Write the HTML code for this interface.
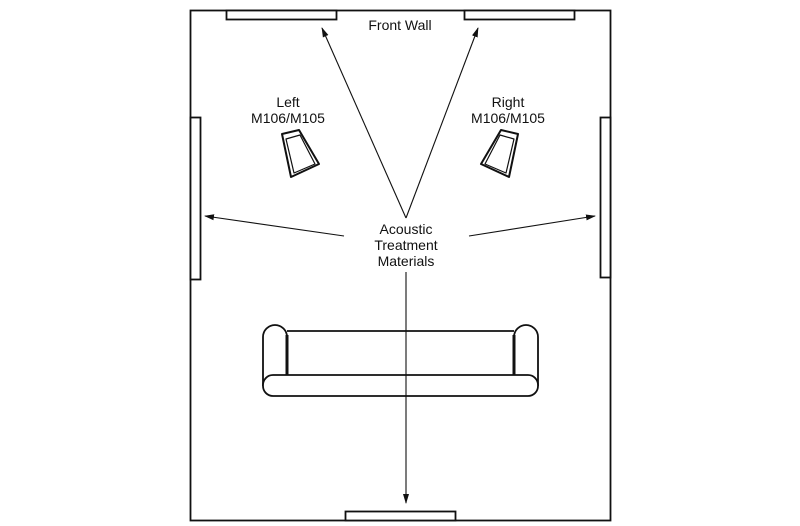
<!DOCTYPE html>
<html><head><style>body{margin:0;background:#fff}svg{display:block}text{font-family:"Liberation Sans Narrow","Liberation Sans",sans-serif;font-size:14px;fill:#111;text-anchor:middle}</style></head>
<body>
<svg width="800" height="526" viewBox="0 0 800 526" xmlns="http://www.w3.org/2000/svg">
<defs><marker id="a" markerWidth="10" markerHeight="8" refX="9" refY="4" orient="auto" markerUnits="userSpaceOnUse"><path d="M0,1 L10,4 L0,7z" fill="#111"/></marker></defs>
<g fill="none" stroke="#111" stroke-width="1.8">
<rect x="190.5" y="10.5" width="420" height="510"/>
<rect x="226.5" y="10.5" width="110" height="9" fill="#fff"/>
<rect x="464.5" y="10.5" width="110" height="9" fill="#fff"/>
<rect x="190.5" y="117.5" width="10" height="162" fill="#fff"/>
<rect x="600.5" y="117.5" width="10" height="160" fill="#fff"/>
<rect x="345.5" y="511.5" width="110" height="9" fill="#fff"/>
</g>
<g fill="none" stroke="#111" stroke-width="1.8" stroke-linejoin="round">
<path d="M263,386 V337 a12,12 0 0 1 24,0 V386"/>
<path d="M514,386 V337 a12,12 0 0 1 24,0 V386"/>
<line x1="287" y1="331" x2="514" y2="331"/>
<line x1="287" y1="335" x2="287" y2="376" stroke-width="3"/>
<line x1="514" y1="335" x2="514" y2="376" stroke-width="3"/>
<rect x="263" y="375" width="275" height="21" rx="10" fill="#fff"/>
<path d="M282,134 L299,130 L319,164 L291,177 Z" stroke-width="2"/>
<path d="M286,139 L300,135 L315,164 L294,173 Z" stroke-width="1.2"/>
<path d="M518,134 L501,130 L481,164 L509,177 Z" stroke-width="2"/>
<path d="M514,139 L500,135 L485,164 L506,173 Z" stroke-width="1.2"/>
</g>
<g stroke="#111" stroke-width="1.1" fill="none">
<line x1="406" y1="218" x2="322" y2="28" marker-end="url(#a)"/>
<line x1="406" y1="218" x2="478" y2="28" marker-end="url(#a)"/>
<line x1="344" y1="236" x2="205" y2="216" marker-end="url(#a)"/>
<line x1="469" y1="236" x2="595" y2="216" marker-end="url(#a)"/>
<line x1="406" y1="272" x2="406" y2="503" marker-end="url(#a)"/>
</g>
<text x="400" y="30">Front Wall</text>
<text x="288" y="107">Left</text>
<text x="288" y="123">M106/M105</text>
<text x="508" y="107">Right</text>
<text x="508" y="123">M106/M105</text>
<text x="406" y="234">Acoustic</text>
<text x="406" y="250">Treatment</text>
<text x="406" y="266">Materials</text>
</svg>
</body></html>
